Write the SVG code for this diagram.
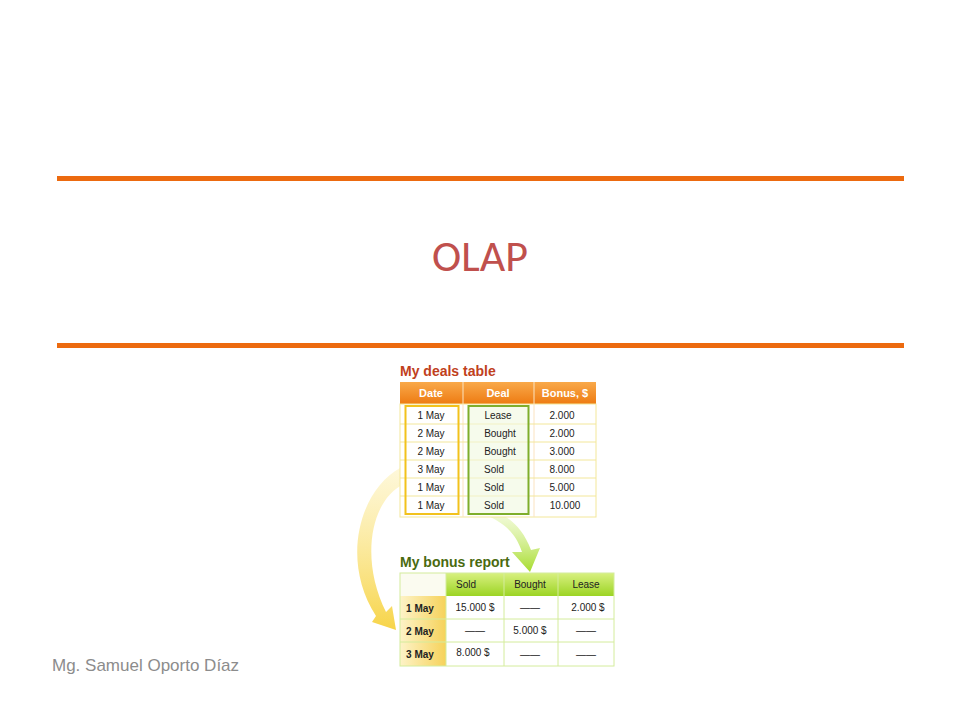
<svg xmlns="http://www.w3.org/2000/svg" width="960" height="720" viewBox="0 0 960 720">
<defs>
<linearGradient id="oh" x1="0" y1="0" x2="0" y2="1"><stop offset="0" stop-color="#f9a94a"/><stop offset="1" stop-color="#ee7b12"/></linearGradient>
<linearGradient id="gh" x1="0" y1="0" x2="0" y2="1"><stop offset="0" stop-color="#d8f080"/><stop offset="1" stop-color="#9cd424"/></linearGradient>
<linearGradient id="yc" x1="0" y1="0" x2="1" y2="0"><stop offset="0" stop-color="#fdf3c8"/><stop offset="1" stop-color="#f6d25a"/></linearGradient>
<linearGradient id="ya" x1="0" y1="0" x2="0" y2="1"><stop offset="0" stop-color="#fdf3c0" stop-opacity="0.6"/><stop offset="1" stop-color="#f7d448"/></linearGradient>
<linearGradient id="ga" x1="0" y1="0" x2="0" y2="1"><stop offset="0" stop-color="#eaf8c0" stop-opacity="0.5"/><stop offset="1" stop-color="#a6dc2c"/></linearGradient>
</defs>
<style>
.t{font-family:"Liberation Sans",Arial,sans-serif;font-size:10px;fill:#222;text-anchor:middle}
.h{font-family:"Liberation Sans",Arial,sans-serif;font-size:11px;fill:#fff;text-anchor:middle;font-weight:bold}
.b{font-family:"Liberation Sans",Arial,sans-serif;font-size:10px;fill:#222;text-anchor:middle;font-weight:bold}
.ln{stroke:#f3e79a;stroke-width:1}
.gl{stroke:#d4ec9c;stroke-width:1}
</style>
<rect width="960" height="720" fill="#fff"/>
<rect x="57" y="176" width="847" height="5" fill="#ec6a0f"/>
<rect x="57" y="343" width="847" height="5" fill="#ec6a0f"/>
<text x="480" y="271" font-family="Calibri,'Liberation Sans',sans-serif" font-size="44" fill="#c0504d" text-anchor="middle">OLAP</text>
<text x="52" y="671" font-family="'Liberation Sans',Arial,sans-serif" font-size="17" fill="#8c8c8c">Mg. Samuel Oporto Díaz</text>
<g id="connectors">
<path d="M400,468 C360,490 340,560 376,616 L372,622 L396,630 L392,606 L386,612 C360,560 370,500 404,484 Z" fill="url(#ya)"/>
<path d="M478,512 C500,520 515,530 522,552 L512,552 L530,572 L540,548 L531,550 C522,526 506,514 490,510 Z" fill="url(#ga)"/>
</g>
<g id="deals">
<text x="400" y="376" font-family="'Liberation Sans',Arial,sans-serif" font-size="14" font-weight="bold" fill="#c0401c">My deals table</text>
<rect x="400" y="382" width="196" height="22" fill="url(#oh)"/>
<rect x="400" y="404" width="196" height="113" fill="#fff" stroke="#f3e79a"/>
<line x1="463" y1="382" x2="463" y2="517" stroke="#fbe3c0"/><line x1="534" y1="382" x2="534" y2="517" stroke="#fbe3c0"/>
<g class="ln"><line x1="400" y1="424" x2="596" y2="424"/><line x1="400" y1="442" x2="596" y2="442"/><line x1="400" y1="460" x2="596" y2="460"/><line x1="400" y1="478" x2="596" y2="478"/><line x1="400" y1="496" x2="596" y2="496"/></g>
<rect x="405.5" y="406" width="53" height="108" fill="none" stroke="#f2c21c" stroke-width="2"/>
<rect x="468.5" y="406" width="60" height="108" fill="#f0f9e0" fill-opacity="0.6" stroke="#7fae2c" stroke-width="2"/>
<text class="h" x="431" y="397">Date</text><text class="h" x="498" y="397">Deal</text><text class="h" x="565" y="397">Bonus, $</text>
<g class="t">
<text x="431" y="419">1 May</text><text x="431" y="437">2 May</text><text x="431" y="455">2 May</text><text x="431" y="473">3 May</text><text x="431" y="491">1 May</text><text x="431" y="509">1 May</text>
<text x="498" y="419">Lease</text><text x="500" y="437">Bought</text><text x="500" y="455">Bought</text><text x="494" y="473">Sold</text><text x="494" y="491">Sold</text><text x="494" y="509">Sold</text>
<text x="562" y="419">2.000</text><text x="562" y="437">2.000</text><text x="562" y="455">3.000</text><text x="562" y="473">8.000</text><text x="562" y="491">5.000</text><text x="565" y="509">10.000</text>
</g>
</g>
<g id="bonus">
<text x="400" y="567" font-family="'Liberation Sans',Arial,sans-serif" font-size="14" font-weight="bold" fill="#4a6a10">My bonus report</text>
<rect x="400" y="573" width="46" height="23" fill="#fbfbf0"/>
<rect x="446" y="573" width="168" height="23" fill="url(#gh)"/>
<rect x="400" y="596" width="46" height="70" fill="url(#yc)"/>
<rect x="446" y="596" width="168" height="70" fill="#fff"/>
<g class="gl"><rect x="400" y="573" width="214" height="93" fill="none"/><line x1="446" y1="573" x2="446" y2="666"/><line x1="504" y1="573" x2="504" y2="666"/><line x1="558" y1="573" x2="558" y2="666"/><line x1="400" y1="619" x2="614" y2="619"/><line x1="400" y1="642" x2="614" y2="642"/></g>
<g class="t"><text x="466" y="588">Sold</text><text x="530" y="588">Bought</text><text x="586" y="588">Lease</text>
<text x="475" y="611">15.000 $</text><text x="530" y="611">——</text><text x="588" y="611">2.000 $</text>
<text x="475" y="634">——</text><text x="530" y="634">5.000 $</text><text x="586" y="634">——</text>
<text x="473" y="656">8.000 $</text><text x="530" y="658">——</text><text x="586" y="658">——</text></g>
<g class="b"><text x="420" y="612">1 May</text><text x="420" y="635">2 May</text><text x="420" y="658">3 May</text></g>
</g>
</svg>
